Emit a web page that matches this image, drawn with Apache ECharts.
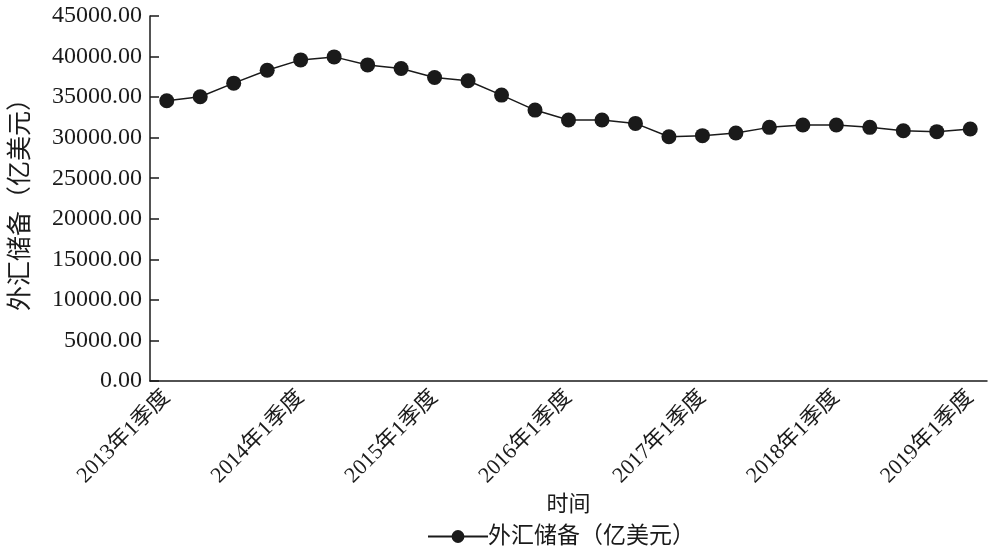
<!DOCTYPE html>
<html><head><meta charset="utf-8">
<script src="https://cdn.jsdelivr.net/npm/echarts@6/dist/echarts.min.js"></script>
<style>html,body{margin:0;padding:0;background:#fff}#c{width:989px;height:547px}</style>
</head><body><div id="c"></div>
<script>
const categories = [];
const years = [2013,2014,2015,2016,2017,2018,2019];
years.forEach(y => { for (let q = 1; q <= 4; q++) { if (y === 2019 && q > 1) break; categories.push(y + '年' + q + '季度'); } });
const reserves = [34550, 35040, 36720, 38320, 39590, 39960, 38970, 38520, 37410, 37010, 35250, 33400, 32180, 32170, 31760, 30120, 30250, 30580, 31270, 31560, 31560, 31270, 30860, 30740, 31070];
const seriesName = '外汇储备（亿美元）';
const xName = '时间';
const font = "'Liberation Serif', 'Noto Sans CJK SC', serif";
const chart = echarts.init(document.getElementById('c'));
chart.setOption({
  animation: false,
  backgroundColor: '#fff',
  textStyle: { fontFamily: font, color: '#1a1a1a' },
  grid: { left: 150, right: 2, top: 16, bottom: 166, containLabel: false },
  legend: {
    left: 422, top: 520, itemWidth: 60, itemHeight: 16, itemGap: 0,
    textStyle: { fontFamily: font, fontSize: 23, color: '#1a1a1a', padding: [0, 0, 0, -5] },
    data: [seriesName]
  },
  xAxis: {
    type: 'category', data: categories, boundaryGap: true,
    name: xName, nameLocation: 'middle', nameGap: 112,
    nameTextStyle: { fontFamily: font, fontSize: 22, color: '#1a1a1a' },
    axisLine: { lineStyle: { color: '#1a1a1a', width: 1.5 } },
    axisTick: { inside: true, length: 8, interval: 0, lineStyle: { color: '#1a1a1a', width: 1.5 } },
    axisLabel: { interval: 3, rotate: 45, margin: 13, fontFamily: font, fontSize: 22, color: '#1a1a1a' },
    splitLine: { show: false }
  },
  yAxis: {
    type: 'value', min: 0, max: 45000, interval: 5000,
    name: seriesName, nameLocation: 'middle', nameGap: 116, nameRotate: 90,
    nameTextStyle: { fontFamily: font, fontSize: 25, color: '#1a1a1a' },
    axisLine: { show: true, lineStyle: { color: '#1a1a1a', width: 1.5 } },
    axisTick: { show: true, inside: true, length: 9, lineStyle: { color: '#1a1a1a', width: 1.5 } },
    axisLabel: { formatter: v => v.toFixed(2), margin: 8, fontFamily: font, fontSize: 24, color: '#1a1a1a' },
    splitLine: { show: false }
  },
  series: [{
    name: seriesName, type: 'line', data: reserves,
    symbol: 'circle', symbolSize: 15,
    itemStyle: { color: '#1a1a1a' },
    lineStyle: { color: '#1a1a1a', width: 1.5 }
  }]
});
</script></body></html>
